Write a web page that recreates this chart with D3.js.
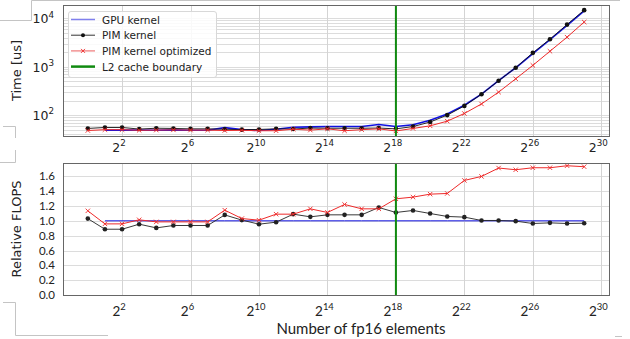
<!DOCTYPE html>
<html>
<head>
<meta charset="utf-8">
<script src="https://cdn.jsdelivr.net/npm/d3@7"></script>
<style>
  body { margin: 0; background: #fff; }
  svg { display: block; }
</style>
</head>
<body>
<svg width="630" height="339"></svg>
<script>

// exponents of the number of fp16 elements (n = 2^e)
const exponents = [0, 1, 2, 3, 4, 5, 6, 7, 8, 9, 10, 11, 12, 13, 14, 15, 16, 17, 18, 19, 20, 21, 22, 23, 24, 25, 26, 27, 28, 29];

// time in microseconds
const gpuTime = [null, 49, 49, 49, 48.5, 49.5, 48.5, 48.5, 55, 50, 48, 51, 56, 57, 58, 58, 58, 64, 58, 63, 78, 105, 160, 272, 515, 950, 1860, 3600, 7150, 14200];
const pimTime = [53, 55.5, 55.5, 51.5, 53.5, 53, 52, 52, 51, 50, 50.5, 52, 51.5, 54, 53.5, 53.5, 53.5, 54, 52, 58, 72, 100, 155, 270, 512, 953, 1930, 3700, 7400, 14700];
const pimOptTime = [48, 50, 50, 48.5, 49, 49.5, 49, 49, 48, 48.5, 47.5, 47.5, 51, 49, 52, 47.5, 50, 52, 47, 53, 60, 75, 108, 170, 298, 562, 1065, 2085, 4075, 8370];

// relative FLOPS
const gpuRel = [null, 1, 1, 1, 1, 1, 1, 1, 1, 1, 1, 1, 1, 1, 1, 1, 1, 1, 1, 1, 1, 1, 1, 1, 1, 1, 1, 1, 1, 1];
const pimRel = [1.03, 0.887, 0.887, 0.955, 0.905, 0.937, 0.937, 0.937, 1.08, 1.01, 0.955, 0.982, 1.09, 1.054, 1.081, 1.081, 1.081, 1.18, 1.113, 1.14, 1.099, 1.059, 1.05, 1.005, 1.005, 0.996, 0.964, 0.973, 0.964, 0.968];
const pimOptRel = [1.135, 0.959, 0.959, 1.014, 0.986, 0.986, 0.986, 0.986, 1.144, 1.031, 1.009, 1.09, 1.09, 1.162, 1.113, 1.221, 1.162, 1.162, 1.297, 1.32, 1.36, 1.369, 1.545, 1.599, 1.712, 1.689, 1.716, 1.716, 1.743, 1.73];

const xTickExps = [2, 6, 10, 14, 18, 22, 26, 30];
const timeTicks = [100, 1000, 10000];
const relTicks = [0, 0.2, 0.4, 0.6, 0.8, 1.0, 1.2, 1.4, 1.6];
const cacheBoundaryExp = 18;

const legendItems = ["GPU kernel", "PIM kernel", "PIM kernel optimized", "L2 cache boundary"];

const svg = d3.select("svg");
const mplFont = "'DejaVu Sans', sans-serif";
const lowFont = "Lato, 'Open Sans', sans-serif";

const left = 63, right = 609;
const top1 = 5, bottom1 = 136;
const top2 = 163, bottom2 = 295;

const x = d3.scaleLog().base(2)
    .domain([Math.pow(2, -1.45), Math.pow(2, 30.45)])
    .range([left, right]);

const yTime = d3.scaleLog().domain([37, 18800]).range([bottom1, top1]);
const yRel = d3.scaleLinear().domain([0, 1.78]).range([bottom2, top2]);

const pow2 = e => Math.pow(2, e);

// page decorations (leftover frame lines from the screenshot)
const deco = svg.append("g").attr("stroke", "#c4c4c4").attr("fill", "none").attr("stroke-width", 1);
deco.append("path").attr("d", "M0,20.5H31.5V0.5H620");
deco.append("path").attr("d", "M3,126.5H15.5V138");
deco.append("path").attr("d", "M0,162.5H15.5V150");
deco.append("path").attr("d", "M3,302.5H15.5V335.5H108");
deco.append("path").attr("d", "M615,336.5H622");

function drawPanel(y, yTop, yBottom, gridVals) {
    const g = svg.append("g");

    // horizontal grid
    g.selectAll(".hgrid").data(gridVals).enter().append("line")
        .attr("x1", left).attr("x2", right)
        .attr("y1", d => Math.round(y(d)) + 0.5).attr("y2", d => Math.round(y(d)) + 0.5)
        .attr("stroke", "#dcdcdc").attr("stroke-width", 1);

    // vertical grid
    g.selectAll(".vgrid").data(xTickExps).enter().append("line")
        .attr("x1", d => Math.round(x(pow2(d))) + 0.5).attr("x2", d => Math.round(x(pow2(d))) + 0.5)
        .attr("y1", yTop).attr("y2", yBottom)
        .attr("stroke", "#d4d4d4").attr("stroke-width", 1);

    return g;
}

function drawFrame(yTop, yBottom) {
    svg.append("rect")
        .attr("x", left + 0.5).attr("y", yTop + 0.5)
        .attr("width", right - left).attr("height", yBottom - yTop)
        .attr("fill", "none").attr("stroke", "#666").attr("stroke-width", 1);
}

function drawSeries(g, y, values, color, marker, width) {
    const pts = exponents.map((e, i) => ({ e: e, v: values[i] })).filter(d => d.v != null);
    const line = d3.line().x(d => x(pow2(d.e))).y(d => y(d.v));
    g.append("path").datum(pts)
        .attr("d", line)
        .attr("fill", "none").attr("stroke", color).attr("stroke-width", width);
    if (marker === "dot") {
        g.selectAll(null).data(pts).enter().append("circle")
            .attr("cx", d => x(pow2(d.e))).attr("cy", d => y(d.v))
            .attr("r", 2.3).attr("fill", color);
    } else if (marker === "x") {
        g.selectAll(null).data(pts).enter().append("path")
            .attr("d", d => {
                const cx = x(pow2(d.e)), cy = y(d.v), s = 2.2;
                return `M${cx - s},${cy - s}L${cx + s},${cy + s}M${cx - s},${cy + s}L${cx + s},${cy - s}`;
            })
            .attr("stroke", color).attr("stroke-width", 0.9).attr("fill", "none");
    }
}

function drawBoundary(g, yTop, yBottom) {
    g.append("line")
        .attr("x1", x(pow2(cacheBoundaryExp))).attr("x2", x(pow2(cacheBoundaryExp)))
        .attr("y1", yTop).attr("y2", yBottom)
        .attr("stroke", "#108a10").attr("stroke-width", 2);
}

function supLabel(g, xPos, yPos, base, exp, size, font, anchor) {
    const t = g.append("text")
        .attr("x", xPos).attr("y", yPos)
        .attr("text-anchor", anchor)
        .style("font-family", font).style("font-size", size + "px")
        .attr("fill", "#222");
    t.append("tspan").text(base);
    t.append("tspan").attr("dy", -size * 0.45).style("font-size", (size * 0.7) + "px").text(exp);
}

// ---------- top panel: time ----------
const minorTime = [];
[10, 100, 1000, 10000].forEach(dec => {
    for (let k = 1; k < 10; k++) {
        const v = dec * k;
        if (v >= 37 && v <= 18800) minorTime.push(v);
    }
});
const gTop = drawPanel(yTime, top1, bottom1, minorTime);

drawSeries(gTop, yTime, gpuTime, "#1010e0", null, 1.6);
drawSeries(gTop, yTime, pimTime, "#111", "dot", 0.9);
drawSeries(gTop, yTime, pimOptTime, "#ee2a2a", "x", 1);
drawBoundary(gTop, top1, bottom1);
drawFrame(top1, bottom1);

timeTicks.forEach(v => {
    supLabel(gTop, 54, yTime(v) + 5, "10", Math.round(Math.log10(v)), 12.5, mplFont, "end");
});
xTickExps.forEach(e => {
    supLabel(gTop, x(pow2(e)) - 3, 152, "2", e, 12.5, mplFont, "middle");
});

svg.append("text")
    .attr("transform", `translate(21,${(top1 + bottom1) / 2}) rotate(-90)`)
    .attr("text-anchor", "middle")
    .style("font-family", mplFont).style("font-size", "13px")
    .attr("fill", "#222")
    .text("Time [us]");

// legend
const lg = svg.append("g").attr("transform", "translate(68,11)");
lg.append("rect")
    .attr("x", 0.5).attr("y", 0.5).attr("width", 148).attr("height", 66).attr("rx", 2.5)
    .attr("fill", "#fff").attr("fill-opacity", 0.85)
    .attr("stroke", "#d8d8d8");
const legendStyles = [
    { color: "#8080ee", marker: null, width: 1.5 },
    { color: "#333", marker: "dot", width: 1 },
    { color: "#ee7777", marker: "x", width: 1.2 },
    { color: "#108a10", marker: null, width: 2.5 }
];
legendItems.forEach((label, i) => {
    const cy = 8.5 + i * 15.7;
    const st = legendStyles[i];
    lg.append("line").attr("x1", 3).attr("x2", 27).attr("y1", cy).attr("y2", cy)
        .attr("stroke", st.color).attr("stroke-width", st.width);
    if (st.marker === "dot") {
        lg.append("circle").attr("cx", 15).attr("cy", cy).attr("r", 2).attr("fill", "#111");
    } else if (st.marker === "x") {
        lg.append("path").attr("d", `M13,${cy - 2}L17,${cy + 2}M13,${cy + 2}L17,${cy - 2}`)
            .attr("stroke", "#ee2a2a").attr("stroke-width", 0.9);
    }
    lg.append("text").attr("x", 34).attr("y", cy + 4)
        .style("font-family", mplFont).style("font-size", "10.5px")
        .attr("fill", "#222")
        .text(label);
});

// ---------- bottom panel: relative FLOPS ----------
const gBot = drawPanel(yRel, top2, bottom2, relTicks);

drawSeries(gBot, yRel, gpuRel, "#1010e0", null, 1);
drawSeries(gBot, yRel, pimRel, "#222", "dot", 0.9);
drawSeries(gBot, yRel, pimOptRel, "#ee2a2a", "x", 1);
drawBoundary(gBot, top2, bottom2);
drawFrame(top2, bottom2);

relTicks.forEach(v => {
    gBot.append("text")
        .attr("x", 55).attr("y", yRel(v) + 4)
        .attr("text-anchor", "end")
        .style("font-family", lowFont).style("font-size", "11.5px")
        .attr("fill", "#222")
        .text(v.toFixed(1));
});
xTickExps.forEach(e => {
    supLabel(gBot, x(pow2(e)) - 3, 316, "2", e, 13.5, lowFont, "middle");
});

svg.append("text")
    .attr("transform", `translate(21,${(top2 + bottom2) / 2}) rotate(-90)`)
    .attr("text-anchor", "middle")
    .style("font-family", mplFont).style("font-size", "13px")
    .attr("fill", "#222")
    .text("Relative FLOPS");

svg.append("text")
    .attr("x", 361).attr("y", 334)
    .attr("text-anchor", "middle")
    .style("font-family", lowFont).style("font-size", "15px")
    .attr("fill", "#222")
    .text("Number of fp16 elements");

</script>
</body>
</html>
